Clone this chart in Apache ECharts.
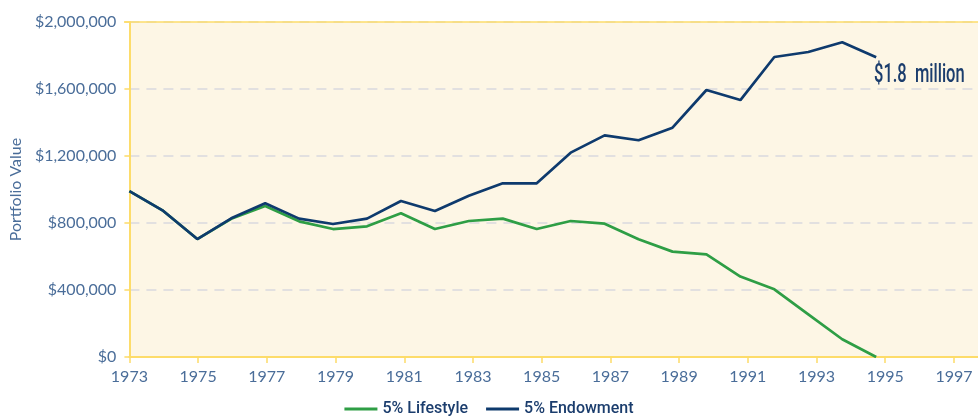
<!DOCTYPE html>
<html><head><meta charset="utf-8">
<script src="https://cdn.jsdelivr.net/npm/echarts@6/dist/echarts.min.js"></script>
<style>html,body{margin:0;padding:0;background:#fff}#c{width:978px;height:419px}</style>
</head><body><div id="c"></div>
<script>
var years = [1973,1974,1975,1976,1977,1978,1979,1980,1981,1982,1983,1984,1985,1986,1987,1988,1989,1990,1991,1992,1993,1994,1995];
var lifestyle = [990000,872000,704000,825000,901000,810000,764000,780000,858000,764000,812000,826000,764000,812000,796000,703000,629000,613000,480000,404000,255000,106000,0];
var endowment = [990000,872000,704000,828000,918000,826000,794000,826000,931000,872000,963000,1037000,1037000,1220000,1323000,1294000,1369000,1594000,1534000,1791000,1821000,1879000,1789000];
var firstTickYear = 1973;
var seriesNames = ['5% Lifestyle','5% Endowment'];
var annotation = '$1.8 million';

var textCol = '#4a6d99';
var axisCol = '#fddc6a';
var chart = echarts.init(document.getElementById('c'), null, {renderer:'canvas'});
function pts(vals){ return vals.map(function(v,i){ return [years[i], v]; }); }
chart.setOption({
  animation:false,
  grid:{left:124, top:22, right:0, bottom:62, show:true, backgroundColor:'#fdf6e5', borderWidth:0},
  xAxis:[{
    type:'value', min:0, max:24.7, interval:2,
    axisLine:{show:true, lineStyle:{color:axisCol, width:2}},
    axisTick:{show:true, length:6, lineStyle:{color:axisCol, width:1.5}},
    splitLine:{show:false},
    axisLabel:{color:textCol, fontFamily:'Lato', fontSize:16, margin:12, showMaxLabel:false,
      formatter:function(v){ return Number.isInteger(v) ? String(firstTickYear+v) : ''; }}
  },{
    type:'value', min:1973, max:1998, show:false
  }],
  yAxis:{
    type:'value', min:0, max:2000000, interval:400000,
    name:'Portfolio Value', nameLocation:'middle', nameGap:100,
    nameTextStyle:{color:textCol, fontFamily:'Lato', fontSize:16},
    axisLine:{show:true, lineStyle:{color:axisCol, width:2}},
    axisTick:{show:true, length:5, lineStyle:{color:axisCol, width:1.5}},
    splitLine:{show:true, lineStyle:{color:'#d9d9de', type:[10,7], width:1.5}},
    axisLabel:{color:textCol, fontFamily:'Lato', fontSize:16, margin:13,
      formatter:function(v){ return '$'+v.toLocaleString('en-US'); }}
  },
  graphic:[
    {type:'line', shape:{x1:124,y1:22,x2:978,y2:22}, style:{stroke:axisCol, lineWidth:1.5}, z:50},
    {type:'text', x:874, y:63, scaleX:0.66, style:{text:annotation.replace(' ', '  '), fill:'#1b3d6d',
      font:'500 25px Roboto, sans-serif'}, z:60}
  ],
  legend:{
    bottom:-3, left:'center', itemGap:18, itemWidth:33, itemHeight:3, icon:'rect',
    textStyle:{color:'#1b3d6d', fontFamily:'Roboto', fontWeight:500, fontSize:16},
    data:seriesNames
  },
  series:[
    {name:seriesNames[0], type:'line', xAxisIndex:1, data:pts(lifestyle), showSymbol:false,
      lineStyle:{color:'#2e9e45', width:2.7}, itemStyle:{color:'#2e9e45'}, z:2},
    {name:seriesNames[1], type:'line', xAxisIndex:1, data:pts(endowment), showSymbol:false,
      lineStyle:{color:'#0e3a6d', width:2.7}, itemStyle:{color:'#0e3a6d'}, z:3}
  ]
});
</script></body></html>
